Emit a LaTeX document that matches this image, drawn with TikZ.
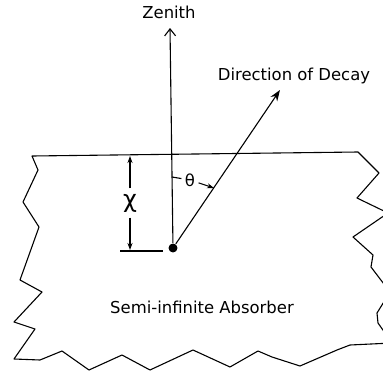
\documentclass[tikz,border=0pt]{standalone}
\usepackage{fontspec}
\setmainfont{DejaVu Sans}
\usepackage{tikz}
\usetikzlibrary{positioning, arrows.meta}

\begin{document}
\begin{tikzpicture}[x=1bp, y=-1bp, line width=1.1pt, every node/.style={inner sep=1.5pt, font=\fontsize{16.5}{19}\selectfont}]
  \useasboundingbox (0,0) rectangle (383,373);
  % absorber outline, runs off the right edge
  \begin{scope}
    \clip (0,0) rectangle (383,373);
    \draw[line join=round] (32,156) -- (358,152) -- (379,173) -- (357,198) -- (388,213)
      -- (353,237) -- (373,255) -- (371,267) -- (390,292) -- (377,313) -- (378,323)
      -- (390,340) -- (392,343) -- (350,345) -- (337,350) -- (300,366) -- (272,357)
      -- (258,351) -- (230,367) -- (193,350) -- (150,370) -- (122,355) -- (89,370)
      -- (62,351) -- (40,360) -- (14,359) -- (35,329) -- (14,322) -- (42,292)
      -- (20,280) -- (39,227) -- (23,202) -- (38,170) -- cycle;
  \end{scope}
  \node[circle,fill=black,minimum size=9pt,inner sep=0pt] (src) at (173,248) {};
  \coordinate (zentip) at (170,28);
  \coordinate (dirtip) at (280,90);
  \node (zen) at (169,12) {Zenith};
  \node (dir) at (294,76) {Direction of Decay};
  \node (abs) at (202,307) {Semi-infinite Absorber};
  \draw[-{Straight Barb[length=7pt,width=11pt]}] (src) -- (zentip);
  \draw[-{Stealth[length=11pt,width=8pt]}] (src) -- (dirtip);
  % depth below surface
  \node[font=\fontsize{24}{26}\selectfont, inner sep=5pt] (chi) at (130,203) {χ};
  \coordinate (chitop) at (130,156);
  \coordinate (chibot) at (130,250);
  \draw[-{Stealth[length=7pt,width=5pt]}] (chi) -- (chitop);
  \draw[-{Stealth[length=7pt,width=5pt]}] (chi) -- (chibot);
  \coordinate (tickL) at (120,251);
  \coordinate (tickR) at (163,251);
  \draw (tickL) -- (tickR);
  % angle
  \node[inner sep=3pt] (theta) at (190,180) {θ};
  \coordinate (thetaL) at (172,177);
  \coordinate (thetatip) at (214,188);
  \draw (thetaL) -- (theta);
  \draw[-{Stealth[length=7pt,width=5pt]}] (theta) -- (thetatip);
\end{tikzpicture}
\end{document}
